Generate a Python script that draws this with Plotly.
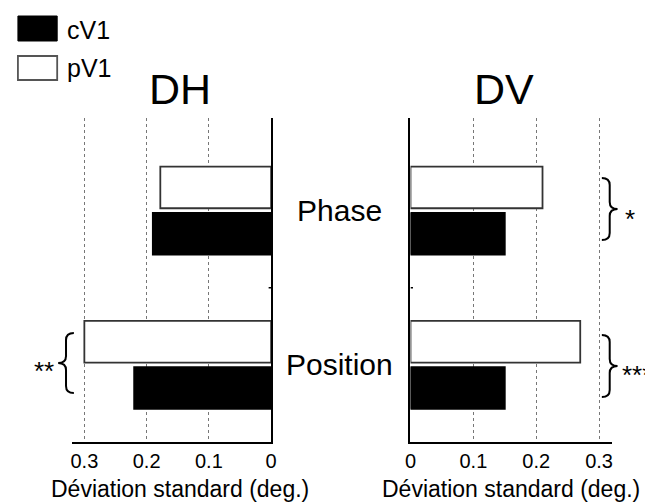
import plotly.graph_objects as go

# ---- data ----
categories = ["Position", "Phase"]
series_names = ["cV1", "pV1"]
dh_cv1 = [0.22, 0.19]
dh_pv1 = [0.30, 0.178]
dv_cv1 = [0.15, 0.15]
dv_pv1 = [0.27, 0.21]
x_ticks = [0, 0.1, 0.2, 0.3]
x_tick_labels = ["0", "0.1", "0.2", "0.3"]
panel_titles = ["DH", "DV"]
axis_title = "Déviation standard (deg.)"

# page offset of the plot div (default body margin)
OX, OY = 8, 8
W, H = 645, 496
FONT = "Liberation Sans, Arial, sans-serif"


def px(x):
    return (x - OX) / W


def py(y):
    return 1 - (y - OY) / H


fig = go.Figure()

fill = {"cV1": "black", "pV1": "white"}
edge = {"cV1": "black", "pV1": "#333333"}

for name, vals in zip(series_names, [dh_cv1, dh_pv1]):
    fig.add_trace(go.Bar(x=vals, y=categories, orientation="h", name=name,
                         marker=dict(color=fill[name], line=dict(color=edge[name], width=1.8)),
                         xaxis="x", yaxis="y", showlegend=False))
for name, vals in zip(series_names, [dv_cv1, dv_pv1]):
    fig.add_trace(go.Bar(x=vals, y=categories, orientation="h", name=name,
                         marker=dict(color=fill[name], line=dict(color=edge[name], width=1.8)),
                         xaxis="x2", yaxis="y2", showlegend=False))

ydom = [py(442), py(118)]
common_x = dict(showline=True, linecolor="black", linewidth=1.5, tickmode="array",
                tickvals=x_ticks, ticktext=x_tick_labels, showgrid=True,
                gridcolor="#777777", griddash="dot", gridwidth=1, zeroline=False,
                ticks="", tickfont=dict(family=FONT, size=20, color="black"))
common_y = dict(domain=ydom, showline=True, linecolor="black", linewidth=2,
                showticklabels=False, showgrid=False, zeroline=False, ticks="",
                type="category", categoryorder="array", categoryarray=categories,
                range=[-0.5, 1.6])

fig.update_layout(
    width=W, height=H,
    margin=dict(l=0, r=0, t=0, b=0),
    paper_bgcolor="white", plot_bgcolor="white",
    barmode="group", bargap=0.4, bargroupgap=0.1,
    showlegend=False,
    font=dict(family=FONT, color="black"),
    xaxis=dict(domain=[px(67), px(270)], range=[0.32, 0], anchor="y", **common_x),
    yaxis=dict(anchor="x", side="right", **common_y),
    xaxis2=dict(domain=[px(412), px(617)], range=[0, 0.32], anchor="y2", **common_x),
    yaxis2=dict(anchor="x2", side="left", **common_y),
)

shapes = []
# small inner ticks between categories
shapes.append(dict(type="line", xref="x", yref="y", x0=0, x1=0.004, y0=0.5, y1=0.5,
                   line=dict(color="black", width=1.5)))
shapes.append(dict(type="line", xref="x2", yref="y2", x0=0, x1=0.004, y0=0.5, y1=0.5,
                   line=dict(color="black", width=1.5)))

# legend boxes
shapes.append(dict(type="rect", xref="paper", yref="paper", x0=px(12), x1=px(52),
                   y0=py(41), y1=py(16), fillcolor="black", line=dict(color="black", width=1)))
shapes.append(dict(type="rect", xref="paper", yref="paper", x0=px(12), x1=px(52),
                   y0=py(80), y1=py(56), fillcolor="white", line=dict(color="#555555", width=1.8)))


def brace(x_hook, x_tip, y0, y1):
    xm = (x_hook + x_tip) / 2
    ym = (y0 + y1) / 2
    r = 7
    pts = [
        f"M {px(x_hook)},{py(y0)}",
        f"Q {px(xm)},{py(y0)} {px(xm)},{py(y0 + r)}",
        f"L {px(xm)},{py(ym - r)}",
        f"Q {px(xm)},{py(ym)} {px(x_tip)},{py(ym)}",
        f"Q {px(xm)},{py(ym)} {px(xm)},{py(ym + r)}",
        f"L {px(xm)},{py(y1 - r)}",
        f"Q {px(xm)},{py(y1)} {px(x_hook)},{py(y1)}",
    ]
    return dict(type="path", xref="paper", yref="paper", path=" ".join(pts),
                line=dict(color="black", width=2))


shapes.append(brace(69, 53, 333, 393))
shapes.append(brace(607, 623, 178, 240))
shapes.append(brace(607, 623, 335, 397))

fig.update_layout(shapes=shapes)


def note(text, x, y, size, xanchor="center", yref="paper"):
    return dict(text=text, x=x, y=y, xref="paper", yref=yref, xanchor=xanchor,
                yanchor="middle", showarrow=False, font=dict(size=size, family=FONT))


ann = []
ann.append(note(panel_titles[0], px(177), py(89), 43))
ann.append(note(panel_titles[1], px(507), py(89), 43))
for c in categories:
    ann.append(note(c, px(340), c, 30, yref="y"))
ann.append(note(axis_title, px(177), py(489), 23))
ann.append(note(axis_title, px(514), py(489), 23))
ann.append(note(series_names[0], px(60), py(30), 25, xanchor="left"))
ann.append(note(series_names[1], px(60), py(68), 25, xanchor="left"))
ann.append(note("**", px(51), py(371), 26, xanchor="right"))
ann.append(note("*", px(629), py(219), 26, xanchor="left"))
ann.append(note("***", px(625), py(375), 26, xanchor="left"))

fig.update_layout(annotations=ann)

fig.write_html("out.html")
